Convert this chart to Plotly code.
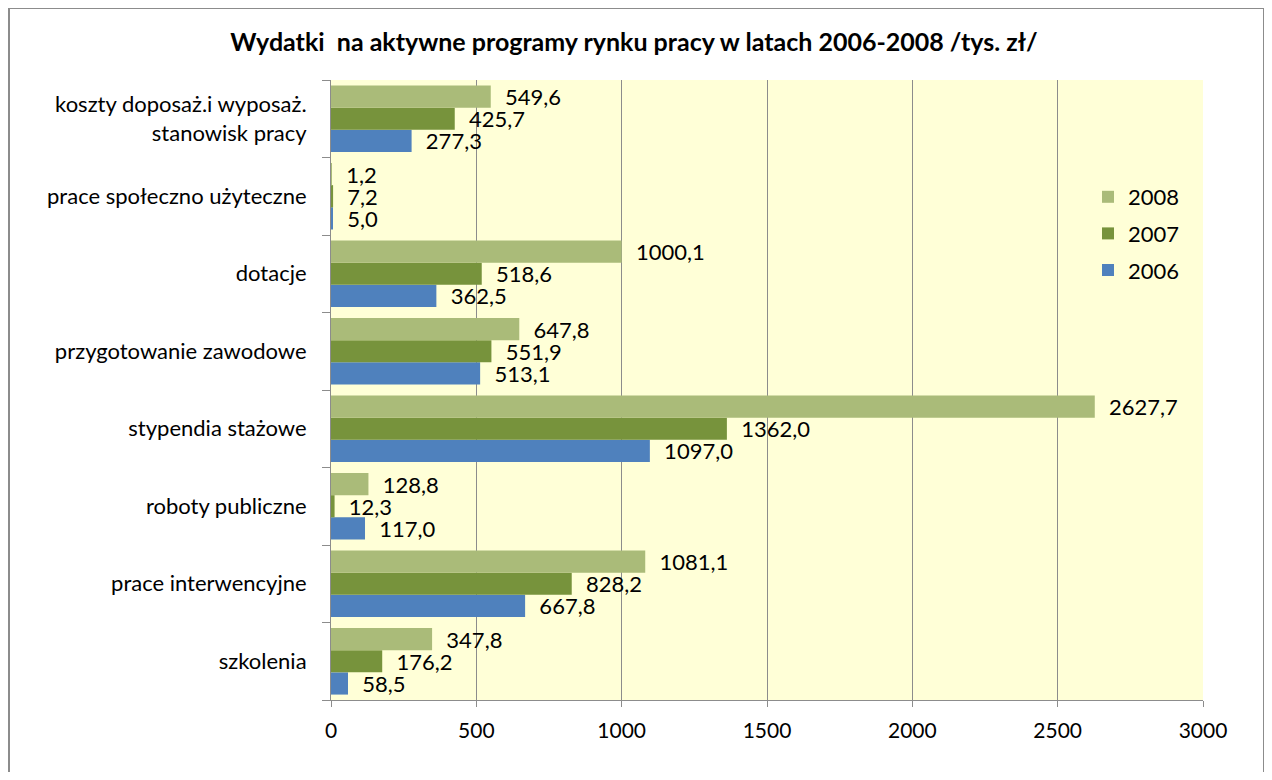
import plotly.graph_objects as go

categories = [
    "szkolenia",
    "prace interwencyjne",
    "roboty publiczne",
    "stypendia stażowe",
    "przygotowanie zawodowe",
    "dotacje",
    "prace społeczno użyteczne",
    "koszty doposaż.i wyposaż.<br>stanowisk pracy",
]
v2006 = [58.5, 667.8, 117.0, 1097.0, 513.1, 362.5, 5.0, 277.3]
v2007 = [176.2, 828.2, 12.3, 1362.0, 551.9, 518.6, 7.2, 425.7]
v2008 = [347.8, 1081.1, 128.8, 2627.7, 647.8, 1000.1, 1.2, 549.6]
series_names = ["2006", "2007", "2008"]
legend_ranks = [3, 2, 1]
colors = ["#4F81BD", "#77933C", "#AABB79"]
x_ticks = [0, 500, 1000, 1500, 2000, 2500, 3000]

FONT = "Lato, 'Open Sans', sans-serif"

def fmt(v):
    return "\u00a0\u00a0" + f"{v:.1f}".replace(".", ",")

fig = go.Figure()
for name, vals, col, rk in zip(series_names, [v2006, v2007, v2008], colors, legend_ranks):
    fig.add_trace(go.Bar(
        y=categories, x=vals, name=name, orientation="h",
        legendgroup=name, legendrank=rk,
        marker=dict(color=col, line=dict(width=0)),
        text=[fmt(v) for v in vals], textposition="outside",
        constraintext="none",
        textfont=dict(family=FONT, size=22, color="#000000"),
        cliponaxis=False,
    ))

# page body has an 8px margin, so figure coordinates are offset by 8px
OFF = 8
W, H = 1272 - 2 * OFF, 780 - 2 * OFF
L, T = 331 - OFF, 80 - OFF
R = W - (1203 - OFF)
B = H - (700 - OFF)
pw, ph = W - L - R, H - T - B

def px_x(p):
    return (p - OFF - L) / pw

def px_y(p):
    return 1 - (p - OFF - T) / ph

fig.update_layout(
    width=W, height=H,
    barmode="group", bargap=0.14, bargroupgap=0,
    paper_bgcolor="white", plot_bgcolor="#FFFFD7",
    margin=dict(l=L, r=R, t=T, b=B, autoexpand=False),
    font=dict(family=FONT, size=21, color="#000000"),
    title=dict(
        text="<b>Wydatki  na aktywne programy rynku pracy w latach 2006-2008 /tys. zł/</b>",
        x=px_x(634), xanchor="center", xref="paper",
        y=1 - (42 - OFF) / H, yanchor="middle",
        font=dict(family=FONT, size=25, color="#000000"),
    ),
    xaxis=dict(
        range=[0, 3000], tickvals=x_ticks, ticktext=[str(t) for t in x_ticks],
        showgrid=True, gridcolor="#8C8C8C", gridwidth=1,
        showline=True, linecolor="#8C8C8C", linewidth=1,
        ticks="outside", ticklen=6, tickcolor="#8C8C8C",
        tickfont=dict(family=FONT, size=21), zeroline=False,
        automargin=False, ticklabelstandoff=6,
    ),
    yaxis=dict(
        showgrid=False, showline=True, linecolor="#8C8C8C", linewidth=1,
        ticks="outside", ticklen=8, tickcolor="#8C8C8C", tickson="boundaries",
        tickfont=dict(family=FONT, size=22),
        automargin=False, ticklabelstandoff=19,
    ),
    legend=dict(
        x=px_x(1088), y=px_y(176), xanchor="left", yanchor="top",
        traceorder="grouped", bgcolor="rgba(0,0,0,0)",
        font=dict(family=FONT, size=22), itemsizing="constant",
        tracegroupgap=5, itemwidth=30,
    ),
    shapes=[dict(
        type="rect", xref="paper", yref="paper",
        x0=px_x(9), x1=px_x(1264), y0=px_y(790), y1=px_y(8),
        line=dict(color="#8C8C8C", width=2), fillcolor="rgba(0,0,0,0)", layer="below",
    )],
)

fig.write_html("out.html")
